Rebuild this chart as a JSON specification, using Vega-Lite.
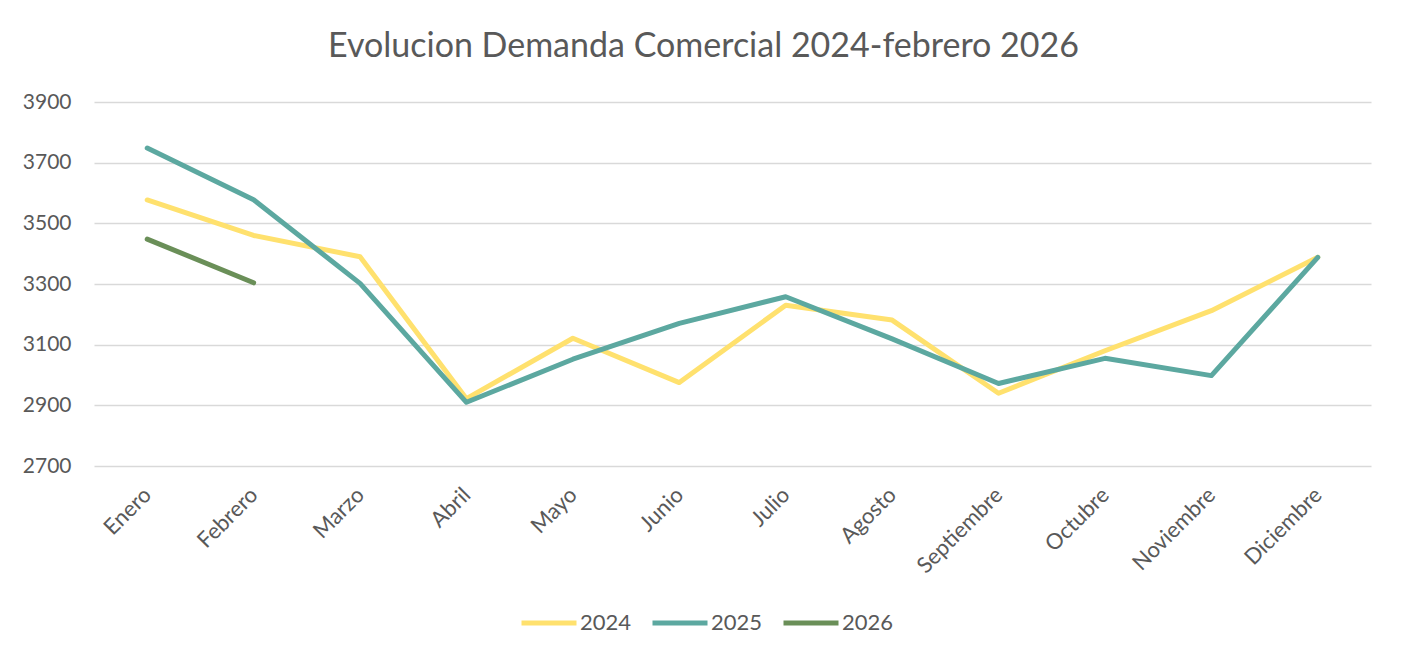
{
  "$schema": "https://vega.github.io/schema/vega-lite/v6.json",
  "width": 1277,
  "height": 364,
  "autosize": {"type": "none"},
  "padding": {"left": 94, "top": 102, "right": 35, "bottom": 193},
  "background": "white",
  "title": {"text": "Evolucion Demanda Comercial 2024-febrero 2026", "fontSize": 34, "font": "Lato", "fontWeight": "normal", "color": "#595959", "offset": 27, "dx": -29},
  "data": {"values": [
    {"mes": "Enero", "anio": "2024", "demanda": 3577},
    {"mes": "Febrero", "anio": "2024", "demanda": 3460},
    {"mes": "Marzo", "anio": "2024", "demanda": 3390},
    {"mes": "Abril", "anio": "2024", "demanda": 2922},
    {"mes": "Mayo", "anio": "2024", "demanda": 3121},
    {"mes": "Junio", "anio": "2024", "demanda": 2975},
    {"mes": "Julio", "anio": "2024", "demanda": 3230},
    {"mes": "Agosto", "anio": "2024", "demanda": 3181},
    {"mes": "Septiembre", "anio": "2024", "demanda": 2940},
    {"mes": "Octubre", "anio": "2024", "demanda": 3080},
    {"mes": "Noviembre", "anio": "2024", "demanda": 3212},
    {"mes": "Diciembre", "anio": "2024", "demanda": 3388},
    {"mes": "Enero", "anio": "2025", "demanda": 3748},
    {"mes": "Febrero", "anio": "2025", "demanda": 3578},
    {"mes": "Marzo", "anio": "2025", "demanda": 3302},
    {"mes": "Abril", "anio": "2025", "demanda": 2910},
    {"mes": "Mayo", "anio": "2025", "demanda": 3052},
    {"mes": "Junio", "anio": "2025", "demanda": 3170},
    {"mes": "Julio", "anio": "2025", "demanda": 3258},
    {"mes": "Agosto", "anio": "2025", "demanda": 3119},
    {"mes": "Septiembre", "anio": "2025", "demanda": 2972},
    {"mes": "Octubre", "anio": "2025", "demanda": 3055},
    {"mes": "Noviembre", "anio": "2025", "demanda": 2998},
    {"mes": "Diciembre", "anio": "2025", "demanda": 3388},
    {"mes": "Enero", "anio": "2026", "demanda": 3448},
    {"mes": "Febrero", "anio": "2026", "demanda": 3304}
  ]},
  "mark": {"type": "line", "strokeWidth": 5, "strokeCap": "round", "strokeJoin": "round"},
  "encoding": {
    "x": {
      "field": "mes", "type": "nominal",
      "sort": ["Enero", "Febrero", "Marzo", "Abril", "Mayo", "Junio", "Julio", "Agosto", "Septiembre", "Octubre", "Noviembre", "Diciembre"],
      "scale": {"type": "point", "padding": 0.5},
      "axis": {"title": null, "domain": false, "ticks": false, "grid": false, "labelAngle": -45, "labelAlign": "right", "labelBaseline": "middle", "labelPadding": 25, "labelFont": "Lato", "labelFontSize": 22, "labelColor": "#595959"}
    },
    "y": {
      "field": "demanda", "type": "quantitative",
      "scale": {"domain": [2700, 3900], "nice": false, "zero": false},
      "axis": {"title": null, "domain": false, "ticks": false, "format": "d", "values": [2700, 2900, 3100, 3300, 3500, 3700, 3900], "grid": true, "gridColor": "#D9D9D9", "gridWidth": 1.5, "labelPadding": 23, "labelFont": "Lato", "labelFontSize": 21, "labelColor": "#595959"}
    },
    "color": {
      "field": "anio", "type": "nominal",
      "scale": {"domain": ["2024", "2025", "2026"], "range": ["#FFE16E", "#5CA8A0", "#6A8F58"]},
      "legend": {"title": null, "orient": "none", "direction": "horizontal", "legendX": 425, "legendY": 491, "symbolType": "stroke", "symbolSize": 3025, "symbolStrokeWidth": 5, "labelFont": "Lato", "labelFontSize": 22, "labelColor": "#595959", "labelOffset": 1, "columnPadding": 10}
    }
  },
  "config": {"view": {"stroke": null}}
}
